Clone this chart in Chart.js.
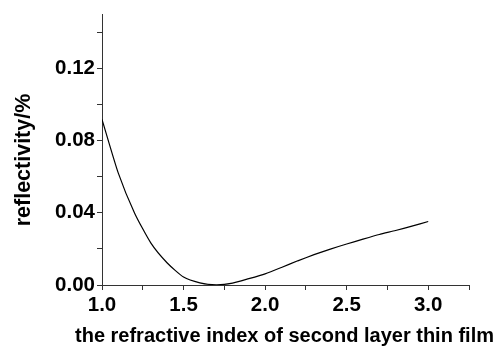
<!DOCTYPE html>
<html>
<head>
<meta charset="utf-8">
<script src="https://cdn.jsdelivr.net/npm/chart.js@4"></script>
<style>
  html, body { margin: 0; padding: 0; background: #fff; }
  #wrap { width: 499px; height: 348px; }
</style>
</head>
<body>
<div id="wrap"><canvas id="chart"></canvas></div>
<script>
// refractive index of the second layer
const indexValues = [1.0, 1.1, 1.2, 1.3, 1.4, 1.5, 1.6, 1.7, 1.8, 1.9, 2.0,
                     2.1, 2.2, 2.3, 2.4, 2.5, 2.6, 2.7, 2.8, 2.9, 3.0]
// reflectivity in %
const reflectivity = [0.0918, 0.062, 0.0398, 0.0232, 0.0122, 0.0044, 0.0012, 0.0001, 0.001, 0.0035, 0.0062,
                      0.0097, 0.0134, 0.0168, 0.0199, 0.0227, 0.0254, 0.028, 0.0302, 0.0326, 0.0352]
const xTickLabels = ['1.0', '1.5', '2.0', '2.5', '3.0']
const yTickLabels = ['0.00', '0.04', '0.08', '0.12']
const xTitle = 'the refractive index of second layer thin film'
const yTitle = 'reflectivity/%'

const points = indexValues.map((x, i) => ({ x: x, y: reflectivity[i] }))

const fontFamily = 'Liberation Sans, Arial, sans-serif'
const labelFont = { family: fontFamily, size: 20.5, weight: 'bold' }

// axis titles drawn by hand so they are not squeezed to the plot width
const axisTitles = {
  id: 'axisTitles',
  afterDraw(chart) {
    const ctx = chart.ctx
    const area = chart.chartArea
    ctx.save()
    ctx.fillStyle = '#000'
    ctx.textAlign = 'center'
    ctx.textBaseline = 'middle'
    ctx.font = 'bold 20px ' + fontFamily
    ctx.fillText(xTitle, (area.left + area.right) / 2 - 1, 336)
    ctx.translate(24, 160)
    ctx.rotate(-Math.PI / 2)
    ctx.font = 'bold 21.5px ' + fontFamily
    ctx.fillText(yTitle, 0, 0)
    ctx.restore()
  }
}

new Chart(document.getElementById('chart'), {
  type: 'line',
  data: {
    datasets: [{
      data: points,
      borderColor: '#000',
      borderWidth: 1.2,
      pointRadius: 0,
      tension: 0.2,
      fill: false
    }]
  },
  options: {
    responsive: true,
    maintainAspectRatio: false,
    animation: false,
    layout: { padding: { left: 0, right: 30, top: 13, bottom: 0 } },
    plugins: { legend: { display: false }, tooltip: { enabled: false } },
    scales: {
      x: {
        type: 'linear',
        min: 1.0,
        max: 3.25,
        border: { display: true, color: '#333', width: 1 },
        grid: { drawOnChartArea: false, drawTicks: true, tickLength: 5, tickColor: '#333' },
        ticks: {
          stepSize: 0.25,
          includeBounds: false,
          autoSkip: false,
          maxRotation: 0,
          padding: 3,
          color: '#000',
          font: labelFont,
          callback: function (v) {
            const s = v.toFixed(1)
            return (Math.round(v * 100) % 50 === 0 && xTickLabels.includes(s)) ? s : ''
          }
        },
        afterFit: function (scale) { scale.height = 63 }
      },
      y: {
        min: 0,
        max: 0.15,
        border: { display: true, color: '#333', width: 1 },
        grid: { drawOnChartArea: false, drawTicks: true, tickLength: 5, tickColor: '#333' },
        ticks: {
          stepSize: 0.02,
          includeBounds: false,
          autoSkip: false,
          padding: 2,
          color: '#000',
          font: labelFont,
          callback: function (v) {
            const s = v.toFixed(2)
            return (Math.round(v * 100) % 4 === 0 && yTickLabels.includes(s)) ? s : ''
          }
        },
        afterFit: function (scale) { scale.width = 102 }
      }
    }
  },
  plugins: [axisTitles]
})
</script>
</body>
</html>
